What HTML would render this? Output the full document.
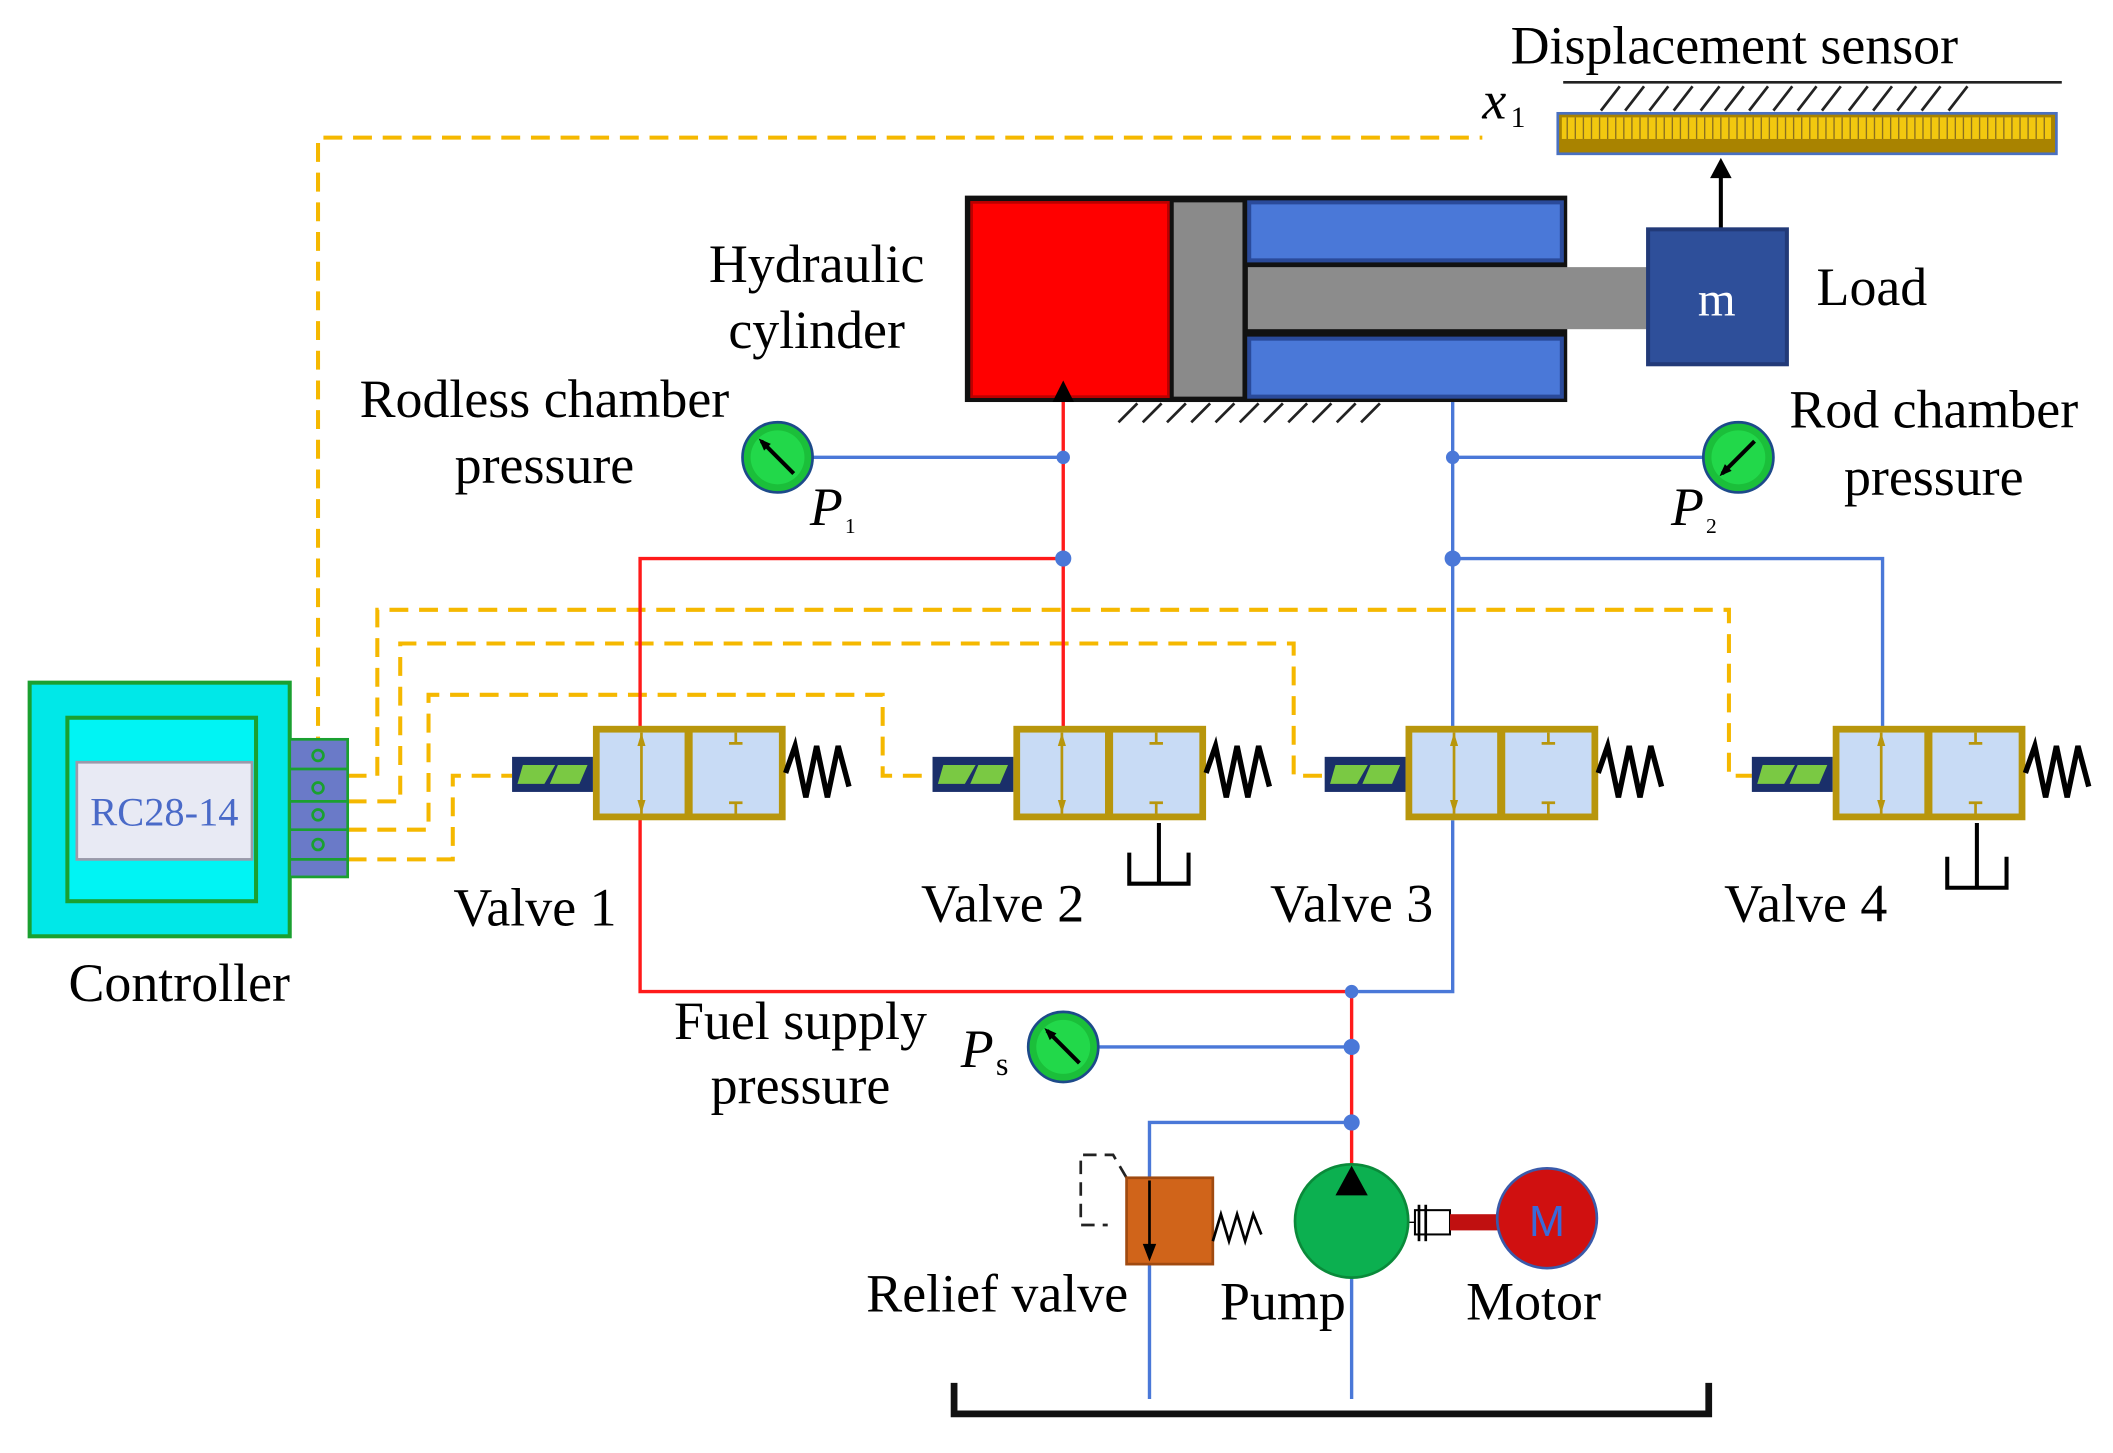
<!DOCTYPE html>
<html><head><style>html,body{margin:0;padding:0;background:#fff}svg{display:block}</style></head>
<body>
<svg width="2113" height="1453" viewBox="0 0 1568 1077" preserveAspectRatio="none" xmlns="http://www.w3.org/2000/svg" font-family="Liberation Serif, serif" font-size="40">
<defs>
<g id="valve">
  <rect x="-60" y="-12" width="60" height="26" fill="#1a2f6a"/>
  <polygon points="-52,-6 -28,-6 -36,8 -56,8" fill="#7ac943"/>
  <polygon points="-26,-6 -4,-6 -10,8 -32,8" fill="#7ac943"/>
  <rect x="0" y="-35" width="143" height="70" fill="#b8960c"/>
  <rect x="5" y="-30" width="63" height="60" fill="#c8dbf5"/>
  <rect x="74" y="-30" width="64" height="60" fill="#c8dbf5"/>
  <line x1="36" y1="-30" x2="36" y2="30" stroke="#b8960c" stroke-width="2"/>
  <polygon points="36,-30 33,-20 39,-20" fill="#b8960c"/>
  <polygon points="36,30 33,20 39,20" fill="#b8960c"/>
  <path d="M106,-30v8M101,-22h10M106,30v-8M101,22h10" stroke="#b8960c" stroke-width="2"/>
  <polyline points="143,0 150,-20 158,18 166,-20 174,18 182,-20 190,10" fill="none" stroke="#000" stroke-width="4"/>
</g>
<g id="gauge">
  <circle r="26" fill="#1bbf3a" stroke="#1d4a8a" stroke-width="2"/>
  <circle r="20" fill="#22d84a"/>
  <line x1="-12" y1="-12" x2="12" y2="12" stroke="#000" stroke-width="3"/>
  <polygon points="-14,-14 -5,-10 -10,-5" fill="#000"/>
</g>
</defs>

<g fill="none" stroke="#f5b800" stroke-width="3" stroke-dasharray="14,8">
  <polyline points="236,560 236,102 1100,102"/>
  <polyline points="258,575 280,575 280,452 1283,452 1283,575 1300,575"/>
  <polyline points="258,594 297,594 297,477 960,477 960,575 983,575"/>
  <polyline points="258,615 318,615 318,515 655,515 655,575 695,575"/>
  <polyline points="258,637 336,637 336,575 380,575"/>
</g>

<text x="1287" y="47" text-anchor="middle">Displacement sensor</text>
<line x1="1160" y1="61" x2="1530" y2="61" stroke="#222" stroke-width="2"/>
<path d="M1188,82l14,-18M1206,82l14,-18M1224,82l14,-18M1242,82l14,-18M1262,82l14,-18M1280,82l14,-18M1298,82l14,-18M1316,82l14,-18M1334,82l14,-18M1352,82l14,-18M1372,82l14,-18M1390,82l14,-18M1408,82l14,-18M1426,82l14,-18M1446,82l14,-18" stroke="#222" stroke-width="2"/>
<rect x="1156" y="84" width="370" height="30" fill="#a98300" stroke="#4a70c0" stroke-width="2"/>
<rect x="1159" y="87" width="363" height="16" fill="#f2c80f"/>
<path d="M1163,87v16M1169,87v16M1175,87v16M1181,87v16M1187,87v16M1193,87v16M1199,87v16M1205,87v16M1211,87v16M1217,87v16M1223,87v16M1229,87v16M1235,87v16M1241,87v16M1247,87v16M1253,87v16M1259,87v16M1265,87v16M1271,87v16M1277,87v16M1283,87v16M1289,87v16M1295,87v16M1301,87v16M1307,87v16M1313,87v16M1319,87v16M1325,87v16M1331,87v16M1337,87v16M1343,87v16M1349,87v16M1355,87v16M1361,87v16M1367,87v16M1373,87v16M1379,87v16M1385,87v16M1391,87v16M1397,87v16M1403,87v16M1409,87v16M1415,87v16M1421,87v16M1427,87v16M1433,87v16M1439,87v16M1445,87v16M1451,87v16M1457,87v16M1463,87v16M1469,87v16M1475,87v16M1481,87v16M1487,87v16M1493,87v16M1499,87v16M1505,87v16M1511,87v16M1517,87v16" stroke="#8a7020" stroke-width="1"/>
<text x="1100" y="88" font-style="italic">x</text><text x="1121" y="94" font-size="22">1</text>
<line x1="1277" y1="170" x2="1277" y2="128" stroke="#000" stroke-width="3"/>
<polygon points="1277,117 1269,132 1285,132" fill="#000"/>

<rect x="716" y="145" width="447" height="153" fill="#111"/>
<rect x="721" y="150" width="146" height="144" fill="#ff0000" stroke="#b00" stroke-width="2"/>
<rect x="871" y="150" width="51" height="144" fill="#8a8a8a"/>
<rect x="927" y="150" width="232" height="43" fill="#4a78d8" stroke="#2a4a9a" stroke-width="3"/>
<rect x="927" y="251" width="232" height="43" fill="#4a78d8" stroke="#2a4a9a" stroke-width="3"/>
<rect x="926" y="198" width="300" height="46" fill="#8c8c8c"/>
<rect x="1223" y="170" width="103" height="100" fill="#2e4f9a" stroke="#223a78" stroke-width="3"/>
<text x="1274" y="234" text-anchor="middle" fill="#fff" font-size="36">m</text>
<text x="1348" y="226">Load</text>
<polygon points="789,282 781,298 797,298" fill="#000"/>
<path d="M830,313l14,-14M848,313l14,-14M866,313l14,-14M884,313l14,-14M902,313l14,-14M920,313l14,-14M938,313l14,-14M956,313l14,-14M974,313l14,-14M992,313l14,-14M1010,313l14,-14" stroke="#222" stroke-width="2"/>
<text x="606" y="209" text-anchor="middle">Hydraulic</text>
<text x="606" y="258" text-anchor="middle">cylinder</text>

<g fill="none" stroke-width="2.5">
  <polyline stroke="#ff1a1a" points="789,298 789,540"/>
  <polyline stroke="#ff1a1a" points="789,414 475,414 475,735 1003,735 1003,866"/>
  <polyline stroke="#4a78d8" points="577,339 789,339"/>
  <polyline stroke="#4a78d8" points="1078,298 1078,540"/>
  <polyline stroke="#4a78d8" points="1078,339 1290,339"/>
  <polyline stroke="#4a78d8" points="1078,414 1397,414 1397,540"/>
  <polyline stroke="#4a78d8" points="1078,608 1078,735 1003,735"/>
  <polyline stroke="#4a78d8" points="789,776 1003,776"/>
  <polyline stroke="#4a78d8" points="1003,832 853,832 853,1037"/>
  <polyline stroke="#4a78d8" points="1003,945 1003,1037"/>
  <polyline stroke="#000" stroke-width="3" points="838,632 838,655 882,655 882,632"/>
  <polyline stroke="#000" stroke-width="3" points="860,610 860,655"/>
  <polyline stroke="#000" stroke-width="3" points="1445,635 1445,658 1489,658 1489,635"/>
  <polyline stroke="#000" stroke-width="3" points="1467,610 1467,658"/>
</g>
<g fill="#4a78d8">
  <circle cx="789" cy="339" r="5"/><circle cx="789" cy="414" r="6"/>
  <circle cx="1078" cy="339" r="5"/><circle cx="1078" cy="414" r="6"/>
  <circle cx="1003" cy="735" r="5"/><circle cx="1003" cy="776" r="6"/><circle cx="1003" cy="832" r="6"/>
</g>

<use href="#valve" x="440" y="573"/>
<use href="#valve" x="752" y="573"/>
<use href="#valve" x="1043" y="573"/>
<use href="#valve" x="1360" y="573"/>
<text x="397" y="686" text-anchor="middle">Valve 1</text>
<text x="744" y="683" text-anchor="middle">Valve 2</text>
<text x="1003" y="683" text-anchor="middle">Valve 3</text>
<text x="1340" y="683" text-anchor="middle">Valve 4</text>

<use href="#gauge" x="577" y="339"/>
<g transform="translate(1290,339) scale(-1,1) rotate(180)"><use href="#gauge"/></g>
<use href="#gauge" x="789" y="776"/>
<text x="404" y="309" text-anchor="middle">Rodless chamber</text>
<text x="404" y="358" text-anchor="middle">pressure</text>
<text x="601" y="389" font-style="italic">P</text><text x="627" y="395" font-size="16">1</text>
<text x="1240" y="389" font-style="italic">P</text><text x="1266" y="395" font-size="16">2</text>
<text x="1435" y="317" text-anchor="middle">Rod chamber</text>
<text x="1435" y="367" text-anchor="middle">pressure</text>
<text x="594" y="770" text-anchor="middle">Fuel supply</text>
<text x="594" y="818" text-anchor="middle">pressure</text>
<text x="713" y="791" font-style="italic">P</text><text x="739" y="797" font-size="24">s</text>

<rect x="22" y="506" width="193" height="188" fill="#00e8e8" stroke="#1aa030" stroke-width="3"/>
<rect x="50" y="532" width="140" height="136" fill="#00f4f4" stroke="#1aa030" stroke-width="3"/>
<rect x="57" y="565" width="130" height="72" fill="#e8eaf4" stroke="#9a9aaa" stroke-width="2"/>
<text x="122" y="612" text-anchor="middle" fill="#4a6ac8" font-size="30">RC28-14</text>
<rect x="215" y="548" width="43" height="102" fill="#6a7ac8" stroke="#1aa030" stroke-width="2"/>
<g stroke="#1aa030" stroke-width="2" fill="none">
<line x1="215" y1="570" x2="258" y2="570"/><line x1="215" y1="594" x2="258" y2="594"/><line x1="215" y1="615" x2="258" y2="615"/><line x1="215" y1="637" x2="258" y2="637"/>
<circle cx="236" cy="560" r="4"/><circle cx="236" cy="584" r="4"/><circle cx="236" cy="604" r="4"/><circle cx="236" cy="626" r="4"/>
</g>
<text x="133" y="742" text-anchor="middle">Controller</text>

<path d="M836,873 L826,856 H802 V908 H822" fill="none" stroke="#222" stroke-width="2" stroke-dasharray="10,6"/>
<rect x="836" y="873" width="64" height="64" fill="#d0641a" stroke="#a04a10" stroke-width="2"/>
<line x1="853" y1="875" x2="853" y2="928" stroke="#000" stroke-width="2"/>
<polygon points="853,935 848,922 858,922" fill="#000"/>
<polyline points="900,920 906,900 912,920 918,900 924,920 930,900 936,915" fill="none" stroke="#000" stroke-width="2"/>
<text x="740" y="972" text-anchor="middle">Relief valve</text>

<line x1="1045" y1="906" x2="1115" y2="906" stroke="#000" stroke-width="1"/>
<rect x="1050" y="897" width="26" height="18" fill="#fff" stroke="#000" stroke-width="1.5"/>
<line x1="1053" y1="893" x2="1053" y2="920" stroke="#000" stroke-width="2"/>
<line x1="1058" y1="893" x2="1058" y2="920" stroke="#000" stroke-width="2"/>
<rect x="1076" y="900" width="38" height="12" fill="#c01010"/>
<circle cx="1003" cy="905" r="42" fill="#0cb050" stroke="#0a8a3a" stroke-width="2"/>
<polygon points="1003,864 991,886 1015,886" fill="#000"/>
<circle cx="1148" cy="903" r="37" fill="#d01010" stroke="#3a5aaa" stroke-width="2"/>
<text x="1148" y="916" text-anchor="middle" fill="#3a6ad8" font-family="Liberation Sans, sans-serif" font-size="32">M</text>
<text x="952" y="978" text-anchor="middle">Pump</text>
<text x="1138" y="978" text-anchor="middle">Motor</text>

<polyline points="708,1025 708,1048 1268,1048 1268,1025" fill="none" stroke="#111" stroke-width="5"/>
</svg>
</body></html>
